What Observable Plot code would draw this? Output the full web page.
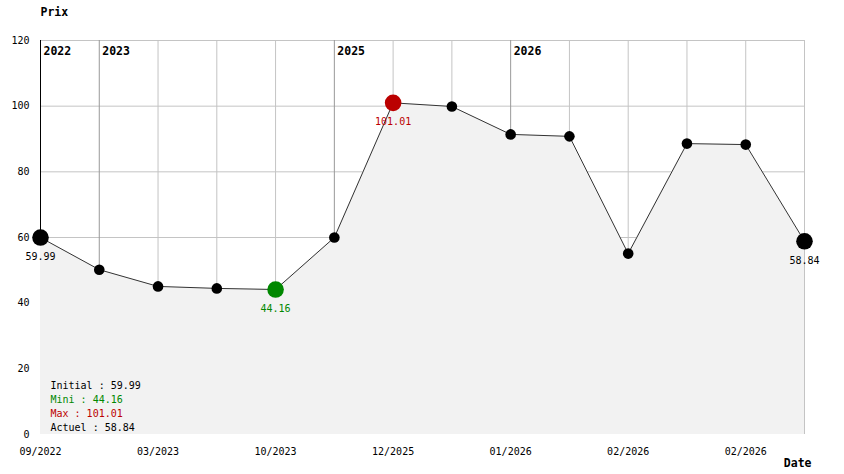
<!DOCTYPE html>
<html><head><meta charset="utf-8">
<script src="https://cdn.jsdelivr.net/npm/d3@7"></script>
<script src="https://cdn.jsdelivr.net/npm/@observablehq/plot@0.6"></script>
<style>html,body{margin:0;padding:0;background:#fff;}</style>
</head><body><div id="chart"></div>
<script>
const prices = [59.99, 50.2, 45.1, 44.5, 44.16, 60.0, 101.01, 99.9, 91.4, 90.8, 55.1, 88.6, 88.3, 58.84];
const tickIdx = [0, 2, 4, 6, 8, 10, 12];
const tickLabels = ["09/2022", "03/2023", "10/2023", "12/2025", "01/2026", "02/2026", "02/2026"];
const yearIdx = [0, 1, 5, 8];
const yearLabels = ["2022", "2023", "2025", "2026"];
const yTicks = [0, 20, 40, 60, 80, 100, 120];
const legendLabels = ["Initial : 59.99", "Mini : 44.16", "Max : 101.01", "Actuel : 58.84"];

const RED = "#bb0000", GREEN = "#008800";
const data = prices.map((v, i) => ({i, v}));
const n = prices.length;
const iMin = prices.indexOf(d3.min(prices));
const iMax = prices.indexOf(d3.max(prices));
const special = data.filter(d => d.i === 0 || d.i === n - 1 || d.i === iMin || d.i === iMax);
const color = d => d.i === iMin ? GREEN : d.i === iMax ? RED : "black";
const years = yearIdx.map((i, k) => ({i, label: yearLabels[k]}));
const plainX = d3.range(n).filter(i => !yearIdx.includes(i));
const legendColors = ["black", GREEN, RED, "black"];

const chart = Plot.plot({
  width: 844, height: 474,
  marginLeft: 40, marginRight: 40, marginTop: 40, marginBottom: 40,
  style: {fontFamily: "DejaVu Sans Mono", fontSize: "10px", background: "white", color: "black"},
  x: {domain: [0, n - 1], axis: null},
  y: {domain: [0, 120], axis: null},
  marks: [
    Plot.ruleY(yTicks.filter(t => t > 0), {stroke: "#c4c4c4", strokeOpacity: 1}),
    Plot.ruleX(plainX, {stroke: "#c4c4c4", strokeOpacity: 1}),
    Plot.ruleX(yearIdx, {stroke: i => i === 0 ? "black" : "#999999", strokeOpacity: 1}),
    Plot.areaY(data, {x: "i", y: "v", fill: "#f2f2f2", fillOpacity: 1}),
    Plot.line(data, {x: "i", y: "v", stroke: "#333", strokeWidth: 1}),
    Plot.dot(data.filter(d => !special.includes(d)), {x: "i", y: "v", r: 5.3, fill: "black"}),
    Plot.dot(special, {x: "i", y: "v", r: 8.3, fill: color}),
    Plot.text(special, {x: "i", y: "v", text: d => d.v.toFixed(2), dy: 19, lineAnchor: "middle", fill: color}),
    Plot.text(years, {x: "i", y: () => 120, text: "label", dx: 3, dy: 11, textAnchor: "start", lineAnchor: "middle", fontWeight: "bold", fontSize: "11.5px"}),
    Plot.axisY({ticks: yTicks, tickSize: 0, tickPadding: 11, label: null, anchor: "left"}),
    Plot.axisX({ticks: tickIdx, tickFormat: i => tickLabels[tickIdx.indexOf(i)], tickSize: 0, tickPadding: 13, label: null, anchor: "bottom"}),
    ...legendLabels.map((t, k) => Plot.text([t], {frameAnchor: "bottom-left", text: d => d, dx: 10, dy: -7 - 14 * (3 - k), textAnchor: "start", lineAnchor: "middle", fill: legendColors[k]})),
    Plot.text(["Prix"], {frameAnchor: "top-left", text: d => d, dy: -28, textAnchor: "start", lineAnchor: "middle", fontWeight: "bold", fontSize: "11.5px"}),
    Plot.text(["Date"], {frameAnchor: "bottom-right", text: d => d, dx: 7, dy: 29, textAnchor: "end", lineAnchor: "middle", fontWeight: "bold", fontSize: "11.5px"})
  ]
});
document.getElementById("chart").appendChild(chart);
</script>
</body></html>
